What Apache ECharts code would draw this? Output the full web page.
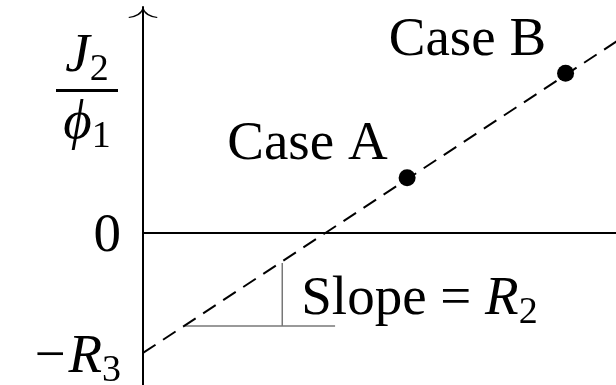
<!DOCTYPE html>
<html>
<head>
<meta charset="utf-8">
<script src="https://cdn.jsdelivr.net/npm/echarts@6/dist/echarts.min.js"></script>
<style>
  html, body { margin: 0; padding: 0; background: #fff; }
  #chart { width: 616px; height: 385px; }
</style>
</head>
<body>
<div id="chart"></div>
<script>
// 数据 (单位: R3 = 1)
var caseNames = ['Case A', 'Case B'];
var caseX = [2.2, 3.52];
var caseY = [0.46, 1.33];

// 虚线 (截距 -R3, 斜率 R2)
var lineX = [0, 3.95];
var lineY = [-1, 1.6];

// 斜率三角形
var triX = [0.35, 1.16, 1.6];
var triY = [-0.775, -0.25];

// y 轴刻度
var yTicks = [-1, 0];
var yTickLabels = ['{m|−}{ri|R}{rs|3}', '{z|0}'];

var FONT = 'Liberation Serif';
var rich = {
  t: { fontFamily: FONT, fontSize: 55, color: '#000' },
  z: { fontFamily: FONT, fontSize: 55, color: '#000', padding: [8, 0, 0, 0] },
  m: { fontFamily: FONT, fontSize: 55, color: '#000', padding: [10, 3, 0, 0] },
  i: { fontFamily: FONT, fontSize: 55, color: '#000', fontStyle: 'italic' },
  ri: { fontFamily: FONT, fontSize: 55, color: '#000', fontStyle: 'italic', padding: [10, 0, 0, 0] },
  s: { fontFamily: FONT, fontSize: 38, color: '#000', padding: [26, 0, 0, 0] },
  rs: { fontFamily: FONT, fontSize: 38, color: '#000', padding: [36, 0, 0, 0] },
  bar: { width: 62, height: 3, backgroundColor: '#000' }
};

var chart = echarts.init(document.getElementById('chart'));

var option = {
  animation: false,
  grid: { left: 143, right: 0, top: 7, bottom: 0, outerBoundsMode: 'none' },
  xAxis: {
    type: 'value',
    min: 0,
    max: 3.94,
    axisLine: { lineStyle: { color: '#000', width: 2 } },
    axisTick: { show: false },
    axisLabel: { show: false },
    splitLine: { show: false }
  },
  yAxis: {
    type: 'value',
    min: -1.267,
    max: 1.883,
    axisLine: {
      show: true,
      lineStyle: { color: '#000', width: 2 },
      // 空心箭头
      symbol: ['none', 'path://M14.5 0 Q12 8 0 10 L0.5 11 Q12.5 9.6 14.5 2.4 Q16.5 9.6 28.5 11 L29 10 Q17 8 14.5 0 Z'],
      symbolSize: [29, 11],
      symbolOffset: [0, -5.5]
    },
    axisTick: { show: false },
    splitLine: { show: false },
    axisLabel: {
      customValues: yTicks,
      margin: 22,
      formatter: function (v) {
        return yTickLabels[yTicks.indexOf(v)] || '';
      },
      rich: rich
    }
  },
  graphic: [{
    type: 'text',
    x: 87,
    y: 25,
    style: {
      text: '{i|J}{s|2}\n{bar|}\n{i|ϕ}{s|1}',
      align: 'center',
      rich: rich
    }
  }],
  series: [
    {
      type: 'line',
      data: lineX.map(function (x, k) { return [x, lineY[k]]; }),
      showSymbol: false,
      lineStyle: { color: '#000', width: 2, type: [15, 9] },
      z: 2
    },
    {
      type: 'line',
      data: [[triX[0], triY[0]], [triX[2], triY[0]]],
      showSymbol: false,
      lineStyle: { color: '#777', width: 1.5 },
      z: 1
    },
    {
      type: 'line',
      data: [[triX[1], triY[0]], [triX[1], triY[1]]],
      showSymbol: false,
      lineStyle: { color: '#777', width: 1.5 },
      z: 1
    },
    {
      type: 'scatter',
      data: [[triX[1], triY[0]]],
      symbolSize: 0,
      itemStyle: { opacity: 1 },
      label: {
        show: true,
        position: 'right',
        distance: 19,
        offset: [0, -26],
        formatter: '{t|Slope = }{i|R}{s|2}',
        rich: rich
      },
      z: 3
    },
    {
      type: 'scatter',
      data: caseX.map(function (x, k) { return { value: [x, caseY[k]], name: caseNames[k] }; }),
      symbol: 'circle',
      symbolSize: 17,
      itemStyle: { color: '#000', opacity: 1 },
      label: {
        show: true,
        position: 'left',
        distance: 11,
        offset: [0, -33],
        formatter: '{b}',
        fontFamily: FONT,
        fontSize: 55,
        color: '#000'
      },
      z: 4
    }
  ]
};

chart.setOption(option);
</script>
</body>
</html>
